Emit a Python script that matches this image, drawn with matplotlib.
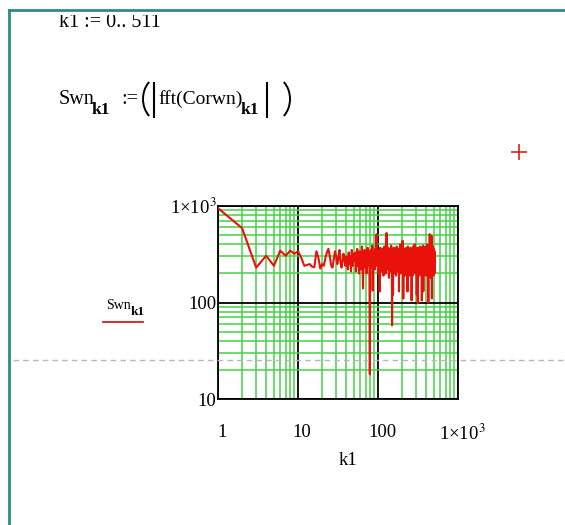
import numpy as np
import matplotlib.pyplot as plt
from matplotlib.lines import Line2D
from matplotlib.patches import Rectangle, Arc
from matplotlib.ticker import LogLocator, NullFormatter
from matplotlib.transforms import ScaledTranslation

plt.rcParams['mathtext.fontset'] = 'stix'
plt.rcParams['font.family'] = ['Liberation Serif', 'DejaVu Serif']

# spectrum magnitude |fft(Corwn)| for k1 = 1..511 (k1 = 0 is off the log axis)
swn_low = [950, 590, 230, 305, 240, 345, 305, 345, 320, 340,
           290, 240, 245, 250, 235, 232, 340, 290, 225, 250,
           240, 290, 330, 360, 300, 240, 230, 280, 340, 300,
           250, 290, 350, 260, 230, 270, 320, 280, 240, 300,
           260, 220, 330, 250, 300, 210, 350, 240, 280, 320]
swn_high = [270, 330, 210, 300, 360, 240, 290, 200, 340, 260,
            310, 220, 380, 250, 140, 300, 270, 350, 230, 290,
            320, 200, 260, 370, 240, 310, 280, 330, 18, 270,
            350, 230, 300, 260, 390, 133, 280, 340, 250, 310,
            220, 360, 270, 300, 420, 510, 240, 330, 280, 200,
            350, 260, 310, 230, 130, 290, 370, 250, 320, 270,
            210, 340, 290, 360, 240, 300, 190, 330, 260, 380,
            280, 230, 350, 310, 200, 440, 270, 525, 300, 250,
            340, 220, 290, 370, 260, 310, 180, 330, 280, 240,
            360, 300, 210, 340, 270, 390, 250, 320, 290, 58,
            310, 260, 350, 120, 280, 230, 370, 300, 250, 330,
            200, 290, 360, 240, 310, 270, 340, 190, 300, 260,
            380, 230, 320, 280, 350, 210, 290, 330, 250, 300,
            360, 240, 130, 310, 270, 340, 220, 290, 400, 260,
            320, 200, 350, 280, 240, 310, 370, 250, 300, 230,
            340, 270, 436, 290, 210, 330, 110, 260, 360, 300,
            240, 310, 280, 350, 190, 320, 270, 230, 340, 290,
            360, 250, 300, 210, 330, 280, 370, 240, 310, 260,
            200, 350, 290, 130, 320, 270, 380, 230, 300, 340,
            250, 310, 220, 360, 280, 190, 330, 270, 300, 240,
            350, 260, 310, 210, 370, 290, 240, 330, 280, 200,
            340, 300, 105, 260, 320, 230, 360, 280, 250, 310,
            190, 340, 270, 300, 220, 380, 260, 320, 290, 240,
            350, 210, 310, 270, 330, 250, 400, 290, 230, 300,
            360, 260, 200, 340, 280, 310, 240, 370, 270, 220,
            330, 290, 250, 350, 120, 300, 260, 340, 210, 310,
            280, 370, 240, 98, 320, 270, 350, 230, 300, 260,
            340, 200, 290, 360, 250, 310, 280, 190, 330, 270,
            300, 240, 380, 260, 320, 210, 350, 290, 240, 310,
            270, 340, 230, 300, 360, 250, 200, 330, 280, 310,
            240, 370, 105, 290, 260, 340, 220, 310, 280, 350,
            230, 300, 270, 390, 250, 320, 190, 290, 130, 340,
            260, 310, 240, 360, 280, 210, 330, 300, 250, 370,
            290, 230, 340, 270, 310, 200, 350, 260, 300, 240,
            380, 280, 320, 220, 290, 350, 250, 310, 190, 330,
            270, 300, 240, 360, 260, 330, 210, 290, 350, 280,
            230, 310, 270, 400, 250, 320, 190, 340, 290, 260,
            360, 220, 300, 270, 330, 100, 310, 250, 350, 280,
            240, 380, 290, 320, 210, 270, 340, 260, 300, 230,
            350, 280, 511, 250, 310, 200, 330, 270, 360, 240,
            290, 320, 220, 300, 260, 370, 180, 310, 280, 340,
            250, 300, 230, 350, 270, 490, 210, 320, 290, 260,
            340, 110, 300, 250, 360, 280, 220, 330, 270, 310,
            240, 350, 290, 200, 320, 270, 380, 250, 300, 230,
            340, 280, 310, 190, 360, 260, 300, 240, 330, 270,
            290, 350, 220, 310, 260, 340, 280, 200, 320, 270, 300]
swn = np.array(swn_low + swn_high)
k1 = np.arange(1, len(swn) + 1)

x_ticks = [1, 10, 100, 1000]
x_labels = ['1', '10', '100', '1×10$^{3}$']
y_ticks = [10, 100, 1000]
y_labels = ['10', '100', '1×10$^{3}$']

W, H = 565, 525
fig = plt.figure(figsize=(W / 100, H / 100), dpi=100)


def fx(px):
    return px / W


def fy(py):
    return 1 - py / H


ax = fig.add_axes([fx(218), fy(399), 240 / W, 193 / H])
ax.set_xscale('log')
ax.set_yscale('log')
ax.plot(k1, swn, color='#e8120a', lw=1.5, zorder=3)
ax.set_xlim(1, 1000)
ax.set_ylim(10, 1000)

for axis in (ax.xaxis, ax.yaxis):
    axis.set_minor_locator(LogLocator(base=10, subs=range(2, 10)))
    axis.set_minor_formatter(NullFormatter())
ax.set_axisbelow(True)
ax.grid(which='minor', color='#45d245', lw=1.1)
ax.grid(which='major', color='black', lw=1.3)
ax.set_xticks(x_ticks, labels=x_labels)
ax.set_yticks(y_ticks, labels=y_labels)
ax.tick_params(which='both', length=0)
ax.tick_params(axis='x', labelsize=13.5, pad=18)
ax.tick_params(axis='y', labelsize=13.5, pad=1)
shift = ScaledTranslation(4 / 100, 0, fig.dpi_scale_trans)
for lab in ax.get_xticklabels():
    lab.set_transform(lab.get_transform() + shift)
for s in ax.spines.values():
    s.set_color('black')
    s.set_linewidth(1.3)

fig.text(fx(348), fy(465), 'k1', fontsize=13.5, ha='center', va='baseline')

# worksheet definitions above the plot
fs = 14.5
top = fig.text(fx(59), fy(27), 'k1 := 0.. 511', fontsize=fs, va='baseline')
top.set_clip_path(Rectangle((0, 0), 1, fy(15), transform=fig.transFigure))

fig.text(fx(59), fy(104), 'Swn', fontsize=fs, va='baseline')
fig.text(fx(92), fy(114), 'k1', fontsize=12.5, weight='bold', va='baseline')
fig.text(fx(121), fy(104), ':=', fontsize=fs, va='baseline')
fig.text(fx(158), fy(104), 'fft(Corwn)', fontsize=14, va='baseline')
fig.text(fx(241), fy(114), 'k1', fontsize=12.5, weight='bold', va='baseline')
# tall parentheses and absolute-value bars
rx, ry = 19, 23
fig.add_artist(Arc((fx(143 + rx), fy(99)), 2 * rx / W, 2 * ry / H,
                   theta1=125, theta2=235, color='black', lw=1.4,
                   transform=fig.transFigure))
fig.add_artist(Arc((fx(290 - rx), fy(99)), 2 * rx / W, 2 * ry / H,
                   theta1=-55, theta2=55, color='black', lw=1.4,
                   transform=fig.transFigure))
for bx in (154, 267):
    fig.add_artist(Line2D([fx(bx)] * 2, [fy(83), fy(117)], color='black', lw=1.5))

# trace legend
fig.text(fx(106), fy(309), 'Swn', fontsize=10, va='baseline')
fig.text(fx(131), fy(315), 'k1', fontsize=9.5, weight='bold', va='baseline')
fig.add_artist(Line2D([fx(103), fx(143)], [fy(322)] * 2, color='#e01818', lw=1.3))

# red cross marker
fig.add_artist(Line2D([fx(519)], [fy(152)], marker='+', ms=11, mew=1.2,
                      color='#d42222', ls='none'))

# page break line
fig.add_artist(Line2D([fx(13), 1], [fy(360)] * 2, color='#b8b8b8', lw=1,
                      dashes=(4, 3), zorder=10))

# region border
fig.add_artist(Line2D([fx(9), fx(9)], [fy(10), 0], color='#2f8c85', lw=2))
fig.add_artist(Line2D([fx(9), 1], [fy(10), fy(10)], color='#2f8c85', lw=2))

fig.savefig('out.png', dpi=100)
